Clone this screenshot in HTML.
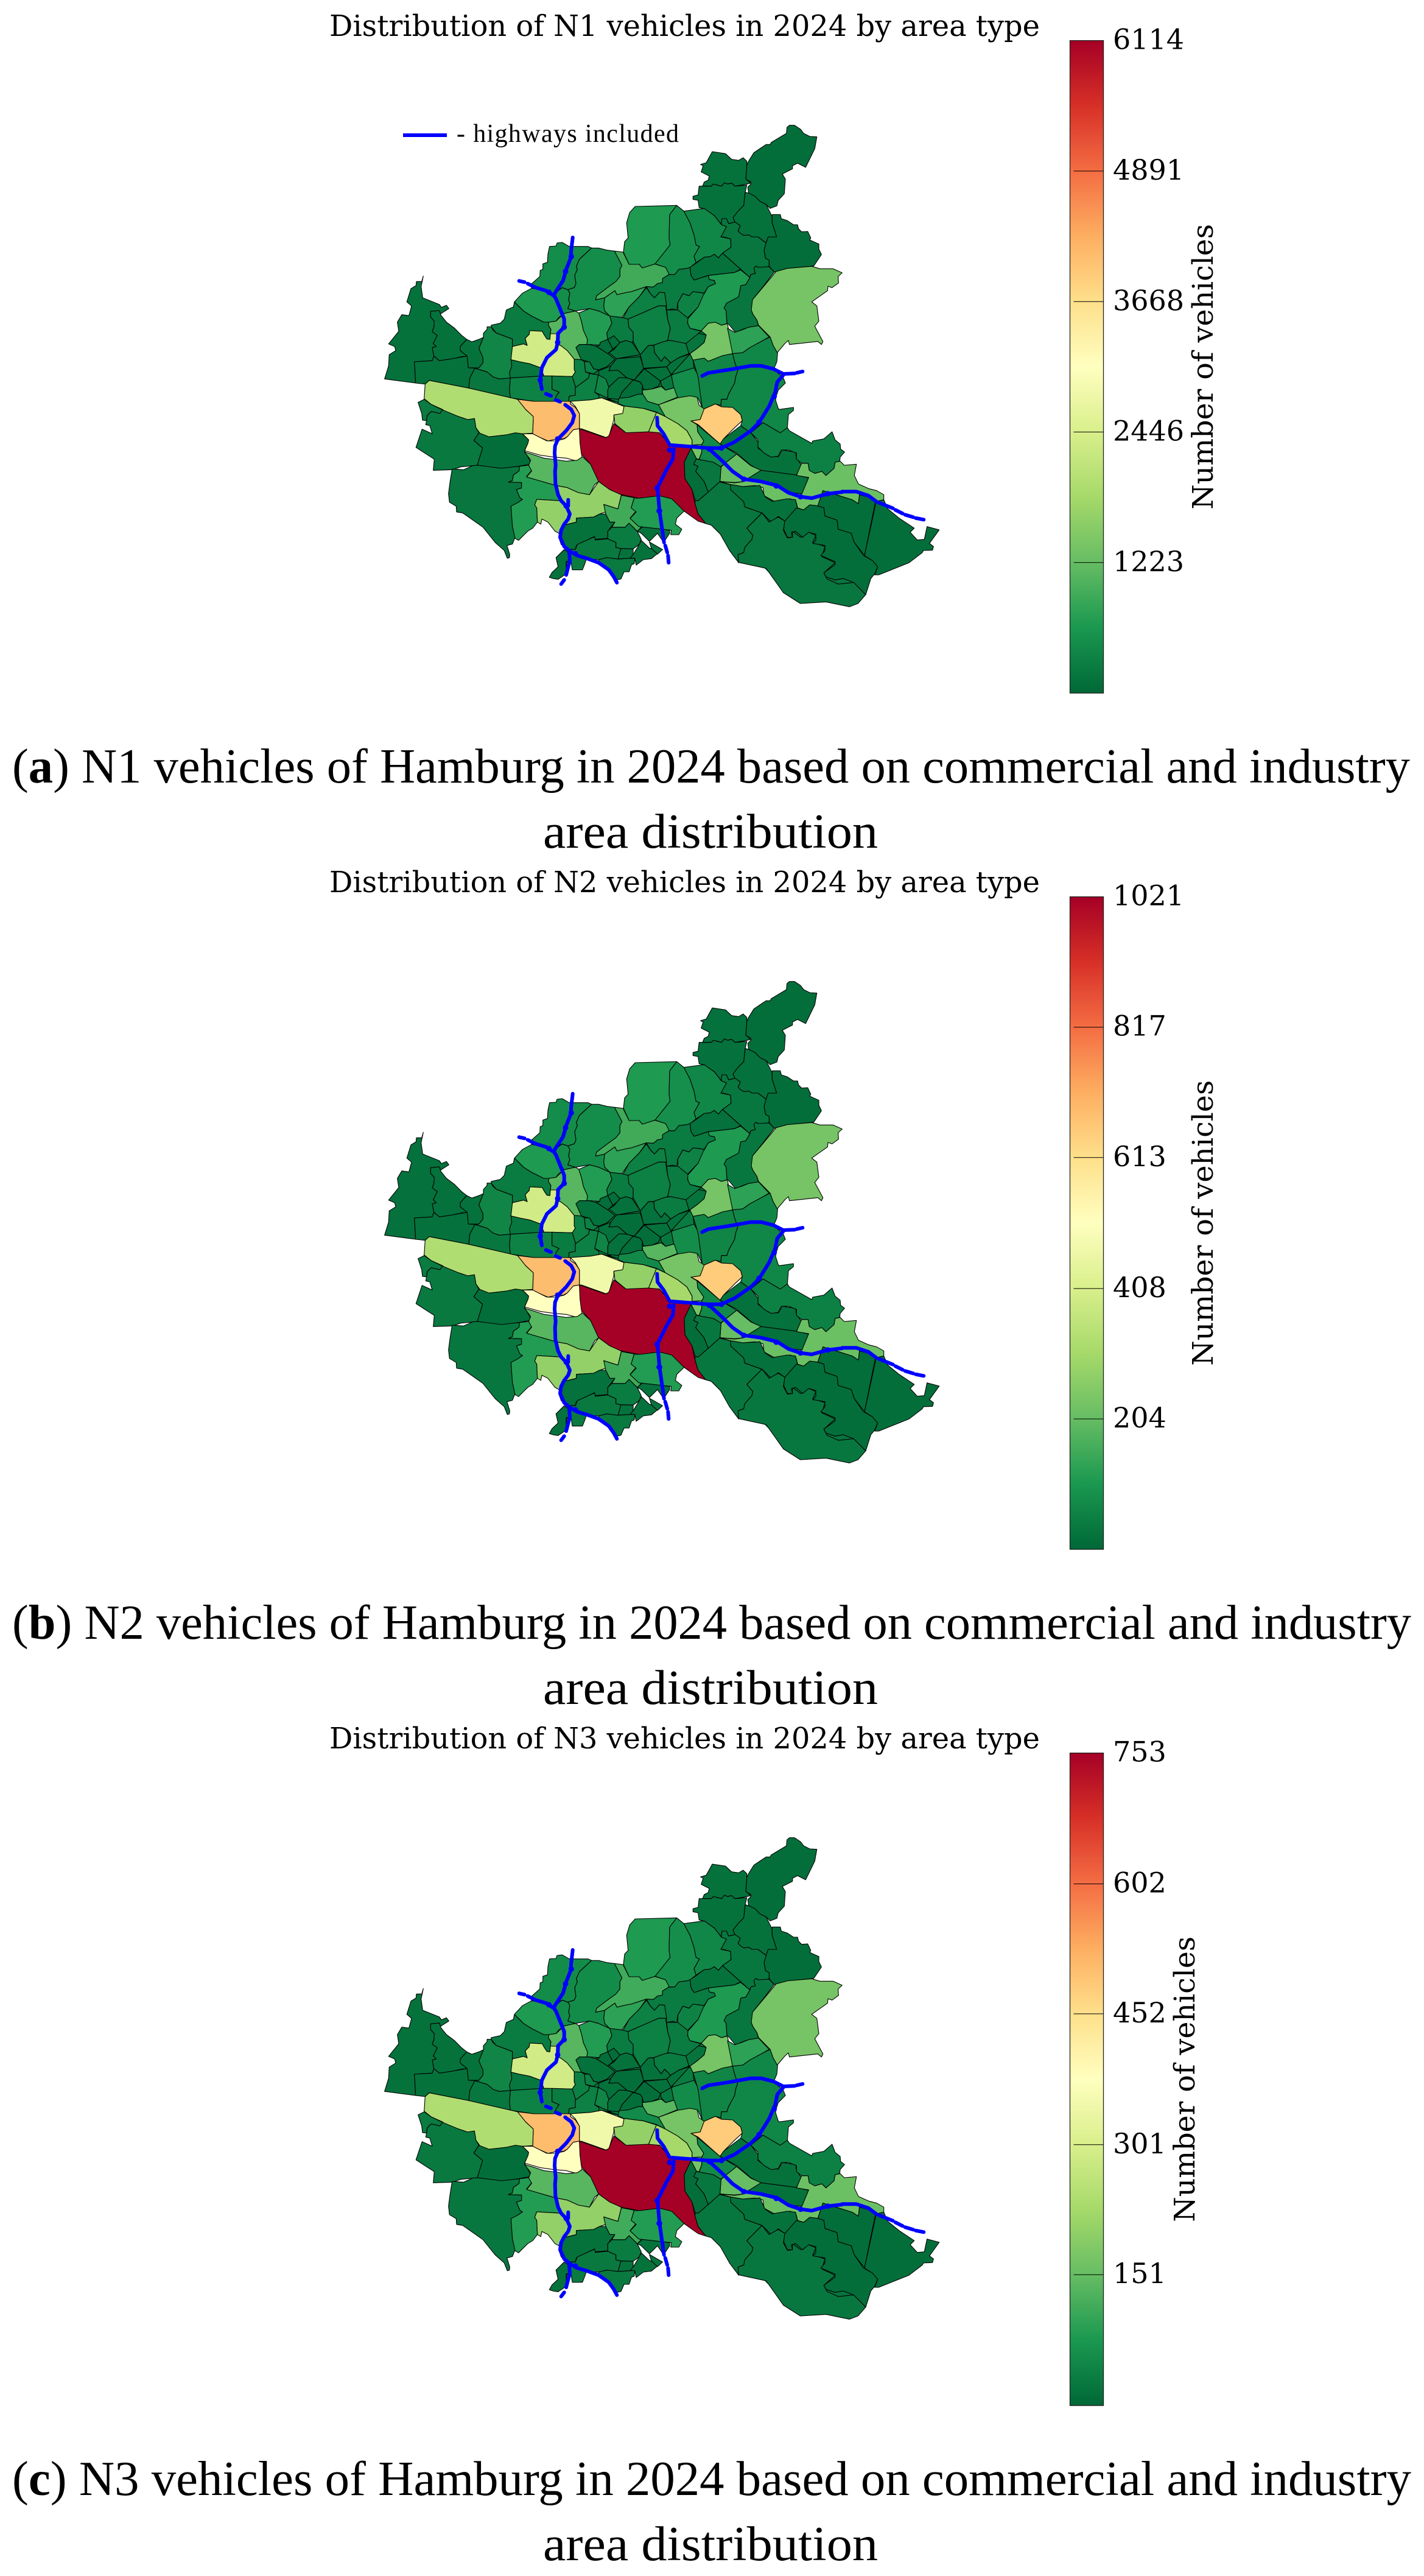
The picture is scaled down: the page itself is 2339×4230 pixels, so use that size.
<!DOCTYPE html>
<html lang="en">
<head>
<meta charset="utf-8">
<title>Distribution of N1, N2 and N3 vehicles in Hamburg 2024</title>
<style>
html,body{margin:0;padding:0;background:#fff;}
svg{display:block;position:absolute;left:0;top:0;}
.title{font-family:"DejaVu Serif","Liberation Serif",serif;font-size:48px;fill:#000;}
.caption{font-family:"Liberation Serif",serif;font-size:80px;fill:#000;}
.legend-text{font-family:"Liberation Serif",serif;font-size:42px;fill:#000;}
.tick{font-family:"DejaVu Serif","Liberation Serif",serif;font-size:46px;fill:#000;}
.cb-label{font-family:"DejaVu Serif","Liberation Serif",serif;font-size:47px;fill:#000;}
</style>
</head>
<body>
<svg id="figure" xmlns="http://www.w3.org/2000/svg" width="2339" height="4230" viewBox="0 0 2339 4230">
  <rect x="0" y="0" width="2339" height="4230" fill="#ffffff"/>
  <defs id="defs"></defs>

  <text class="title" x="541" y="59" textLength="1167" lengthAdjust="spacingAndGlyphs">Distribution of N1 vehicles in 2024 by area type</text>
  <text class="title" x="541" y="1465" textLength="1167" lengthAdjust="spacingAndGlyphs">Distribution of N2 vehicles in 2024 by area type</text>
  <text class="title" x="541" y="2871" textLength="1167" lengthAdjust="spacingAndGlyphs">Distribution of N3 vehicles in 2024 by area type</text>

  <g id="maps"></g>

  <line x1="662" y1="222" x2="734" y2="222" stroke="#0000ff" stroke-width="6"/>
  <text class="legend-text" x="750" y="233" textLength="365" lengthAdjust="spacing">- highways included</text>

  <text class="caption" x="20" y="1285" textLength="2296" lengthAdjust="spacingAndGlyphs">(<tspan font-weight="bold">a</tspan>) N1 vehicles of Hamburg in 2024 based on commercial and industry</text>
  <text class="caption" x="892" y="1392" textLength="550" lengthAdjust="spacingAndGlyphs">area distribution</text>
  <text class="caption" x="20" y="2691" textLength="2298" lengthAdjust="spacingAndGlyphs">(<tspan font-weight="bold">b</tspan>) N2 vehicles of Hamburg in 2024 based on commercial and industry</text>
  <text class="caption" x="892" y="2798" textLength="550" lengthAdjust="spacingAndGlyphs">area distribution</text>
  <text class="caption" x="20" y="4097" textLength="2298" lengthAdjust="spacingAndGlyphs">(<tspan font-weight="bold">c</tspan>) N3 vehicles of Hamburg in 2024 based on commercial and industry</text>
  <text class="caption" x="892" y="4204" textLength="550" lengthAdjust="spacingAndGlyphs">area distribution</text>
</svg>

<script>
/* ---------- data: vehicles per district, same order as districtOutlines ---------- */
var n1Values = [122,122,122,122,367,245,642,459,459,459,
917,764,1100,2354,183,336,245,183,306,306,
673,122,73,73,122,306,367,73,122,122,
73,73,183,122,122,245,122,153,245,459,
1100,1376,1376,428,1651,1834,2812,4096,3057,1956,
245,214,73,183,673,1100,1651,122,214,245,
122,122,122,153,214,245,122,917,673,6114,
3913,428,122,1223,122,1284,183,122,183,73,
73,73,306,367,397,1376,73,122,122,122,
73,183,183,1376,764,642,122,245,336,306,
306,245,245,642,489,397,73,183];
var n2Values = [20,20,20,20,61,41,107,77,77,77,
153,128,184,393,31,56,41,31,51,51,
112,20,12,12,20,51,61,12,20,20,
12,12,31,20,20,41,20,26,41,77,
184,230,230,71,276,306,470,684,510,327,
41,36,12,31,112,184,276,20,36,41,
20,20,20,26,36,41,20,153,112,1021,
653,71,20,204,20,214,31,20,31,12,
12,12,51,61,66,230,12,20,20,20,
12,31,31,230,128,107,20,41,56,51,
51,41,41,107,82,66,12,31];
var n3Values = [15,15,15,15,45,30,79,56,56,56,
113,94,136,290,23,41,30,23,38,38,
83,15,9,9,15,38,45,9,15,15,
9,9,23,15,15,30,15,19,30,56,
136,169,169,53,203,226,346,505,377,241,
30,26,9,23,83,136,203,15,26,30,
15,15,15,19,26,30,15,113,83,753,
482,53,15,151,15,158,23,15,23,9,
9,9,38,45,49,169,9,15,15,15,
9,23,23,169,94,79,15,30,41,38,
38,30,30,79,60,49,9,23];

/* ---------- colorbar scale data ---------- */
var n1Ticks = [1223,2446,3668,4891,6114];
var n2Ticks = [204,408,613,817,1021];
var n3Ticks = [151,301,452,602,753];
var n1Max = 6114;
var n2Max = 1021;
var n3Max = 753;
var colormapStops = ["#006837","#1a9850","#66bd63","#a6d96a","#d9ef8b","#ffffbf","#fee08b","#fdae61","#f46d43","#d73027","#a50026"];

/* ---------- map geometry (shared by the three panels) ---------- */
var tracingFrames = {A:[630,1780,3,3],B:[1000,1600,3,3],C:[700,2100,3,3],D:[1000,2000,3,3],E:[1240,1960,3,3],Z:[550,1560,1.4255,1.5077]};

var districtOutlines = [
["w1","A 5,745 25,680 28,625 60,605 55,585 25,572 75,510 68,465 90,428 125,433 138,385 115,365 135,300 160,285 162,265 188,265 196,238 185,290 193,345 275,378 285,392 310,382 322,398 280,425 275,408 232,412 232,440 250,460 248,490 240,512 265,530 245,570 260,585 240,590 248,632 240,655 152,660 158,765"],
["w2","A 232,412 275,408 282,430 310,465 350,495 385,530 410,550 378,585 378,605 412,632 385,635 340,645 275,655 248,632 240,590 260,585 245,570 265,530 240,512 248,490 250,460 232,440"],
["w3","A 152,660 240,655 248,632 275,655 340,645 412,632 418,690 450,692 425,740 420,790 225,752 205,770 158,765"],
["w4","A 410,550 435,562 470,550 492,540 470,595 490,640 490,665 470,690 418,690 412,632 378,605 378,585"],
["w5","A 510,488 530,488 540,505 555,518 635,548 635,740 570,745 540,735 510,710 450,692 470,690 490,665 490,640 470,595 492,540 492,520 510,500"],
["w6","A 635,585 635,548 555,518 532,490 530,480 575,470 595,450 605,405 640,390 645,365 690,410 730,435 790,465 815,465 812,480 825,500 822,522 820,550 805,548 790,525 782,510 720,507 718,525 698,545 708,580 690,572"],
["w7","A 645,365 685,322 730,298 800,310 830,335 850,350 875,400 890,425 865,440 850,460 815,465 790,465 730,435 690,410"],
["w7b","A 830,335 880,295 908,305 918,322 912,355 918,372 908,398 945,410 890,425 875,400 850,350"],
["w8","A 725,280 770,240 772,210 785,205 785,178 808,170 810,130 818,92 850,90 855,75 880,72 915,92 1008,92 1025,100 965,155 950,190 955,205 942,235 948,275 940,295 908,305 880,295 840,320 830,335 800,310 730,298"],
["w9","A 1025,100 1060,100 1100,110 1138,115 1175,185 1165,205 1165,240 1145,265 1110,290 1050,335 1045,355 1090,345 1085,385 1090,410 1115,435 1060,410 1015,398 945,410 908,398 918,372 912,355 918,322 908,305 940,295 948,275 942,235 955,205 950,190 965,155"],
["w10","A 1045,355 1050,335 1110,290 1145,265 1165,240 1165,205 1175,185 1138,115 B 30,655 70,660 100,720 150,720 165,738 225,718 280,735 300,768 265,790 265,810 240,815 220,832 185,830 110,855 90,858 A 1150,330 1140,310 1090,345"],
["x","A 1090,345 1140,310 1150,330 B 90,858 110,855 185,830 150,880 100,930 65,982 A 1115,435 1090,410 1085,385"],
["w11","A 815,465 850,460 890,422 945,410 962,420 975,460 985,505 1005,550 1002,575 965,575 948,590 975,650 940,648 905,605 875,582 852,570 852,522 822,522 825,500 812,480"],
["w12","A 635,585 690,572 708,580 698,545 718,525 720,507 782,510 790,525 805,548 820,550 822,522 852,522 852,570 875,582 905,605 940,648 940,700 945,710 930,733 790,730 775,690 720,670 670,660 628,650"],
["w13","A 628,650 670,660 720,670 775,690 790,730 625,740 620,715 632,680"],
["w14","A 625,740 790,730 830,730 830,795 865,810 850,830 845,855 740,855 625,838 620,795"],
["w15","A 830,730 930,733 945,780 945,825 915,830 912,855 845,855 850,830 865,810 830,795"],
["w16","A 450,692 510,710 540,735 570,745 625,740 620,795 625,838 420,790 425,740"],
["w17","A 940,648 975,650 990,660 995,710 1015,718 1010,740 945,788 945,780 930,733 945,710 940,700"],
["w18","A 945,788 1010,740 1015,718 1058,725 1045,795 1040,810 1062,825 1060,840 1110,845 1155,860 1075,838 1020,848 920,855 912,855 915,830 945,825"],
["ca1","A 962,420 1015,398 1060,410 1115,435 1125,470 1100,520 1105,550 1068,565 1065,578 1015,575 1002,575 1005,550 985,505 975,460"],
["c1","A 948,590 965,575 1015,575 1050,585 1105,620 1140,648 1100,685 1060,700 1035,695 1015,660 990,655 975,650"],
["c2","A 1068,565 1105,550 1130,598 1105,620 1050,585 1065,578"],
["c3","A 1105,550 1135,532 1170,565 1130,598"],
["c4","B 25,1140 55,1105 85,1095 115,1105 155,1165 38,1185 0,1155"],
["c7","A 990,660 1015,660 1035,695 1060,700 1035,720 995,710"],
["c8","A 1058,725 1090,740 1095,705 1155,702 1160,738 1105,800 1105,825 1118,845 1040,810 1045,795"],
["t1","B 38,1185 155,1175 172,1232 D 170,35 125,90 90,80 45,42 0,45 A 1120,680"],
["t2","A 1060,705 1120,680 D 0,45 45,42 90,80 50,78 0,125 A 1095,745 1060,725"],
["c9","D -5,180 -5,140 0,125 50,78 90,80 120,90 65,150 50,185"],
["c10","D 50,185 65,150 120,90 155,100 165,115 165,165 105,180"],
["dc","D 125,90 175,35 255,95 245,120 210,135 170,138 165,115 155,100"],
["dd","D 255,95 308,65 322,128 280,140 258,115"],
["de","D 175,35 285,25 308,65 255,95"],
["df","B 155,1165 172,1232 285,1225 305,1205 275,1175 258,1198 225,1155 222,1120 195,1120"],
["nm1","B 222,1118 260,1100 305,1095 380,1110 395,1160 345,1180 305,1205 275,1175 258,1198 225,1155"],
["nm2","D 285,25 305,5 345,-20 400,-38 420,30 308,65"],
["nm3","B 380,1110 440,1060 480,1068 470,1105 435,1135 400,1160 395,1160"],
["nm4","D 400,-38 415,-8 420,30 440,75 310,60"],
["e1","D 308,65 420,30 445,75 460,225 440,180 400,170 340,180 320,128"],
["l1","D 165,140 210,135 258,122 280,140 322,128 338,175 245,212 190,195 168,160"],
["l2","D 245,212 338,178 400,168 435,175 445,215 472,232 450,285 405,292 435,310 438,345 468,390 458,408 410,410 410,385 385,340 340,305 278,270 255,235"],
["l3","D 405,425 432,478 445,480 458,445 458,408 410,410"],
["band","D 50,180 100,175 145,160 168,160 190,195 245,212 278,270 235,248 170,230 75,218 45,205"],
["g1","D 75,218 170,230 235,250 195,348 85,350 30,305 25,262 65,255"],
["g2","D 235,250 278,270 340,305 385,340 410,385 410,425 400,425 300,410 250,350 195,348"],
["pale1","A 920,855 1020,848 1075,838 1185,880 1178,915 1135,922 1135,945 1110,1030 1095,1033 975,990 965,990 965,915 945,880"],
["orange","A 660,845 740,855 920,855 922,870 945,885 965,915 965,990 935,995 905,1030 885,1040 855,1040 810,1050 745,1022 735,1015 738,930 700,895"],
["pale2","A 685,1015 735,1015 805,1050 850,1050 890,1040 905,1030 935,995 965,990 970,1060 978,1130 955,1150 900,1135 840,1130 770,1120 695,1098 712,1060 715,1045"],
["band2","A 225,752 420,790 660,845 700,895 738,930 735,1012 685,1015 605,1020 520,1030 480,1020 455,985 448,940 415,945 370,930 310,910 290,895 235,870 200,842 205,770"],
["ws1","A 200,845 235,870 290,897 278,915 235,905 215,925 212,950 192,948 188,915 170,860"],
["ws2","A 215,925 235,905 278,915 290,897 370,930 415,945 448,940 455,985 470,1010 445,1048 488,1085 462,1170 380,1178 340,1192 245,1195 250,1140 195,1105 160,1082 190,992 240,1015 228,975 208,970 212,950"],
["ws3","A 470,1010 520,1030 605,1020 650,1010 685,1015 715,1045 712,1060 695,1098 725,1155 720,1165 665,1175 580,1190 500,1175 462,1170 488,1085 445,1048"],
["sw1","C 128,228 185,232 228,212 252,210 370,225 460,215 458,238 430,258 425,285 405,293 470,295 470,322 445,330 462,370 475,378 450,395 418,412 425,510 438,565 425,598 398,605 412,650 410,665 400,668 385,630 340,590 280,515 180,445 150,440 148,412 115,392 110,350 118,290"],
["sw2","C 460,215 505,210 520,235 495,265 635,305 650,370 665,385 545,378 535,405 545,420 548,490 525,520 500,535 455,580 438,570 425,510 418,412 450,395 475,378 462,370 445,330 470,322 470,295 405,293 425,285 430,258 458,238"],
["sw3","C 485,145 520,155 580,175 645,183 690,190 745,185 770,168 810,205 850,290 830,305 805,355 750,345 695,320 640,310 495,268 520,238 505,210 515,185"],
["sw4","C 640,310 695,320 750,345 805,355 850,290 905,330 962,355 945,425 875,403 885,440 855,450 825,465 740,470 740,490 680,505 655,545 635,535 600,490 570,475 565,500 548,490 545,420 535,405 545,378 665,385 650,370 635,305"],
["s1","C 680,505 740,490 740,470 825,465 855,450 885,450 905,490 930,490 895,535 895,570 830,575 830,560 740,605 735,625 700,625 665,600 655,570 655,545"],
["s2","C 700,625 735,625 745,600 830,562 833,578 895,572 935,590 935,615 960,620 945,672 890,665 850,675 790,672 745,650"],
["s3","C 895,535 915,515 980,515 1000,495 1040,535 1060,575 1050,600 1020,622 960,620 935,615 935,590 895,572"],
["s4","C 960,620 1020,622 1020,650 1005,668 945,672"],
["s5","C 1050,600 1060,580 1100,618 1110,620 1140,645 1110,670 1070,675 1035,702 1028,668 1005,668 1020,650"],
["s6","C 1040,535 1070,510 1200,530 1200,545 1170,590 1140,545 1100,585 1060,545"],
["s6b","C 1100,588 1165,625 1140,648 1110,620"],
["s7","C 850,675 890,665 945,672 1005,668 1028,668 1025,695 1012,700 1000,735 975,735 960,770 940,775 905,720 850,690"],
["s8","C 700,640 735,655 790,672 780,700 770,725 720,725 715,690 690,685 690,715"],
["s9","C 680,625 700,640 705,680 690,685 690,745 650,772 625,768 607,762 620,738 650,710 640,665"],
["sc1","C 962,358 1025,370 1010,420 1035,435 1005,470 1065,510 1040,535 1000,495 980,515 915,515 930,490 905,490 885,450 875,403 945,425"],
["sc2","D 125,672 150,672 250,660 310,675 372,735 335,770 328,800 360,825 345,852 305,852 308,830 148,812 105,772 135,740 110,720"],
["red","D -145,330 -15,375 0,365 25,305 85,350 195,345 250,350 300,410 405,425 372,495 375,575 410,630 425,700 440,750 478,797 440,785 370,735 310,675 250,660 150,672 60,655 5,630 -50,590 -90,505 -135,455 -142,400"],
["lorange","D 470,232 525,208 555,222 610,225 650,260 658,290 620,325 570,375 548,405 440,310 405,292 450,285"],
["r2","D 435,310 548,405 630,455 580,495 550,518 515,495 445,482 458,445 458,408 468,390 438,345"],
["r3","D 565,380 650,315 700,350 735,395 735,425 790,465 835,468 855,435 920,445 925,475 950,510 925,558 745,535 700,510 630,450 548,405"],
["r4","D 630,455 700,512 750,535 665,590 620,595 548,590 553,518 580,495"],
["r5","D 750,535 925,558 985,572 965,635 955,655 880,640 825,610 720,585 700,578 665,588"],
["r6","E 0,730 40,740 45,780 100,810 175,795 205,815 210,840 240,850 270,825 310,830 335,755 480,800 510,820 515,775 590,798 600,808 635,800 635,775 600,755 560,745 510,722 490,680 500,625 440,630 420,610 395,615 390,645 350,680 330,660 295,670 268,655 262,620 230,620 205,680 265,690 232,770 170,765 100,730 0,705 D 700,578 665,590 620,597 548,590 600,605 660,615"],
["r7","D 425,682 440,685 490,642 545,592 600,605 600,630 665,690 670,715 755,745 680,820 710,855 705,875 670,915 665,940 637,950 640,990 595,930 550,850 505,805 478,797 440,750 425,700"],
["r8","D 600,605 660,615 745,610 770,665 805,688 880,675 920,680 930,722 868,785 835,762 800,790 755,745 670,715 665,690 600,630"],
["r9","D 755,745 790,790 835,765 868,785 860,830 880,868 905,865 905,835 945,865 985,840 1020,855 1005,890 1065,910 1050,960 1115,990 1060,1040 1075,1070 1130,1095 Z 1178,1214 1215,1210 1243,1240 1225,1262 1205,1270 1150,1258 1090,1262 1050,1235 1010,1175 945,1160 D 640,990 637,950 665,940 670,915 705,875 710,855 680,820"],
["r10","E 147,905 205,840 240,850 270,825 310,830 340,840 345,880 405,900 410,945 475,965 490,1010 535,1075 580,1100 605,1130 590,1165 Z 1255,1200 1243,1240 1215,1210 1190,1200 E 395,1195 350,1180 340,1160 395,1120 395,1105 325,1075 345,1050 345,1025 285,1015 300,1000 300,970 265,960 235,985 200,955 180,960 185,985 160,985 142,945"],
["r11","E 340,840 310,830 335,755 480,800 510,820 515,775 596,798 540,1075 490,1010 475,965 410,945 405,900 345,880"],
["r12","E 598,808 635,800 655,845 710,890 785,940 765,960 800,998 835,995 848,932 908,948 860,1015 880,1030 875,1048 830,1050 825,1060 760,1110 610,1170 590,1170 605,1130 580,1100 540,1075"],
["r13","E 40,420 125,470 145,445 160,445 170,460 280,522 285,510 340,500 380,465 395,505 420,525 422,550 442,565 420,590 418,610 395,615 390,645 350,680 330,660 295,670 268,655 262,620 230,620 205,600 205,570 165,555 130,555 115,585 80,590 45,570 15,540 15,505 0,490 -20,470"],
["r14a","B 415,1192 470,1182 490,1198 560,1170 610,1160 D 620,0 635,45 625,75 620,105 590,160 582,185 555,185 552,215 525,208 470,232 460,225 440,75"],
["r14b","D 610,-40 660,-45 695,-70 760,-105 795,-122 810,-80 832,-42 828,0 815,30 815,40 860,80 870,105 835,140 825,170 822,190 835,230 840,235 910,225 910,240 885,260 880,325 845,350 760,300 745,310 700,350 650,315 658,290 650,260 610,225 555,222 552,215 555,185 582,185 590,160 620,105 625,75 635,45 620,0"],
["blight","B 400,1160 435,1135 470,1105 480,1068 455,1048 490,1010 525,1005 555,1020 585,1012 610,1160 560,1170 490,1198 470,1182 415,1192"],
["n1","B 690,210 715,170 745,150 775,130 795,130 800,120 875,75 878,45 890,35 915,35 945,55 960,75 990,90 1025,92 1015,150 970,242 930,222 905,235 905,250 855,275 870,300 865,372 835,405 828,432 795,445 775,425 745,410 720,385 690,375 685,340 700,325 700,315 675,300 680,230"],
["n2","B 510,165 575,175 605,203 640,208 662,195 680,212 680,230 675,300 700,320 680,325 622,335 605,320 585,325 570,318 555,335 515,325 505,335 462,335 470,315 490,305 495,285 455,265 465,235 452,228 480,220"],
["n3","B 445,335 505,335 515,325 555,335 570,318 585,325 605,320 622,335 680,330 672,365 665,430 640,455 612,490 622,512 590,520 580,495 558,495 555,510 555,525 520,480 465,445 445,440 440,405 415,400 415,385 440,378"],
["n4","B 672,365 690,370 720,385 745,410 775,425 785,445 805,485 805,515 827,585 785,585 775,615 735,585 705,585 690,575 665,578 645,565 637,555 648,530 622,512 612,490 640,455 665,430"],
["n5","B 805,475 845,475 850,495 880,505 910,525 930,525 935,545 950,560 980,558 995,590 990,600 1035,620 1035,645 1048,672 1010,728 940,735 840,752 815,758 790,730 790,700 772,690 765,650 775,615 785,585 827,585 805,515"],
["n6","B 590,520 622,512 648,530 637,555 645,565 665,578 690,575 705,585 735,585 775,615 765,650 772,690 790,700 790,730 770,735 735,735 725,728 715,740 722,765 700,770 695,785 650,745 560,665 602,635 600,595 565,585 552,585 555,560 580,535 555,525 555,510 558,495 580,495"],
["n7","B 695,785 700,770 722,765 715,740 725,728 735,735 790,732 815,758 760,830 708,895 708,935 702,945 710,965 730,995 738,1025 690,1030 660,1040 625,1055 615,1045 590,1015 582,1010 578,950 568,935 580,912 640,880 650,825 675,820"],
["n8","B 825,755 880,740 1000,730 1040,742 1105,742 1150,762 1130,780 1132,812 1100,835 1080,828 1078,850 1000,905 1025,925 1035,1000 1015,1025 1055,1100 1048,1115 1030,1100 890,1115 885,1095 868,1110 830,1155 810,1120 795,1078 738,1020 730,995 710,965 702,945 708,895"],
["n9","B 585,1035 620,1055 660,1042 690,1030 738,1022 790,1078 760,1095 695,1130 660,1155 610,1160"],
["n10","B 490,775 620,760 650,748 695,785 675,820 650,825 640,880 580,912 568,935 578,950 582,1012 555,1020 525,1005 490,1010 455,1048 400,1035 390,1015 388,990 440,930 450,890 470,865 490,830 525,815 520,800 495,795"],
["n11","B 400,735 430,715 470,685 500,682 520,670 540,688 560,665 650,745 620,760 490,775 420,798 405,775"],
["n12","B 298,770 325,770 345,745 385,740 400,735 405,775 420,798 490,775 495,795 520,800 525,815 490,830 470,862 415,855 395,875 365,865 340,910 335,945 315,940 285,945 275,860 250,858 225,885 205,865 185,830 220,832 240,815 265,810 265,790"],
["n13","B 365,865 395,875 415,855 470,862 440,930 388,985 340,945 340,910"],
["n14","B 70,985 100,930 150,880 185,835 205,865 225,885 250,858 275,860 285,925 245,925 95,990"],
["n15","B 95,990 245,925 280,925 290,990 303,1035 290,1095 258,1105 222,1118 195,1120 155,1165 120,1100 120,1055 98,1030"],
["n16","B 285,945 335,945 340,945 390,985 388,1010 400,1035 455,1050 380,1110 305,1095 290,1095 303,1035 290,990"],
["n17","B 5,975 65,982 95,990 98,1030 120,1055 120,1100 115,1105 85,1095 55,1105 25,1072 -5,1090 A 1100,520 1125,470"],
["n18","B 130,435 335,430 300,475 297,590 302,625 228,718 165,738 150,720 100,720 72,660 78,608 95,590 88,515 103,465"],
["n19","B 335,430 370,458 400,515 420,575 430,625 447,632 420,680 430,712 400,735 385,740 345,745 325,770 298,770 280,735 228,718 302,625 297,590 300,475"],
["n20","B 370,458 470,445 520,480 555,525 580,535 552,585 600,595 602,635 560,665 540,688 520,670 500,682 470,685 430,712 420,680 447,632 430,625 420,575 400,515"],
["m1","D 405,425 432,478 418,505 440,515 428,540 470,590 490,642 440,685 425,682 410,630 375,575 372,495"],
["m2","D 445,482 515,495 553,518 548,590 490,642 470,590 428,540 440,515 418,505 432,478"]
];

var mapUnderlays = [
  "A 950,650 B 200,900 500,1000 D 440,180 250,230 45,205 A 1100,850 940,800",
  "D 560,640 1000,700 1130,1000 900,1150 700,950 600,850",
  "B 560,500 790,500 780,720 600,720",
  "Z 1060,1150 1240,1165 1252,1205 1240,1236 1100,1245"
];

var highwayPaths = [
["h1-north","A 932,48 925,110 922,150 900,205 885,260 845,320 840,335 850,350 870,400 890,450 890,490 860,520 858,565 850,600 805,640 780,690 772,750 780,795"],
["h1-dash-1","A 800,818 825,828"],
["h1-dash-2","A 848,848 870,857"],
["h1-elbe","A 895,872 925,895 940,925 930,960 900,1000 860,1040 845,1075 843,1110 848,1170 C 635,240 637,300 650,355 665,385 690,410 708,450 700,475 680,500 665,530 660,565 680,610 710,635 745,655 790,668 850,690 900,725 925,760 940,788"],
["h1-branch","C 705,640 708,680 695,730 690,750"],
["h1-branch-dash","C 680,775 665,795"],
["h1-spur","C 700,380 700,410"],
["h7-west-dash","A 668,262 695,268"],
["h7-west","A 710,275 750,295 800,310 840,335"],
["h2-ring","D 238,275 240,315 270,355 300,410 490,425 555,425 620,395 700,340 740,300 790,220 820,150 830,100 860,65"],
["h2-north","D 460,70 490,55 600,38 700,20 750,20 810,35 860,60 915,58"],
["h2-north-dash","D 925,55 955,48"],
["h3","D 320,430 315,480 285,530 240,620 250,735 272,890"],
["h3-dash-1","D 278,905 288,940"],
["h3-dash-2","D 292,955 295,990"],
["h4","D 495,430 560,490 610,540 665,578 750,590 830,610 885,645 945,665 1000,672 1080,650 1150,642 E 430,760 500,760 560,780 600,810"],
["h4-dash-1","E 612,815 635,824"],
["h4-dash-2","E 645,828 680,842"],
["h4-dash-3","E 692,850 728,868"],
["h4-dash-4","E 740,874 780,886"],
["h4-dash-5","E 792,890 832,898"]
];

var highwayNodes = ["D 300,435","D 740,298","D 555,425","D 495,430","D 815,170","D 248,735","D 238,622","D 665,578","D 825,612","D 945,665","D 1080,650","A 890,490","A 858,565","A 772,750","A 925,142","A 897,215","A 815,318","A 858,1040","C 690,410","C 735,645","C 1150,435"];

/* ---------- helpers ---------- */
var svgNS = "http://www.w3.org/2000/svg";

function traceToPoints(str){
  var tokens = str.trim().split(/\s+/), frame = null, out = [];
  for (var i = 0; i < tokens.length; i++){
    var t = tokens[i];
    if (/^[A-Z]$/.test(t)) { frame = tracingFrames[t]; continue; }
    var p = t.split(",");
    out.push([frame[0] + (+p[0]) / frame[2], frame[1] + (+p[1]) / frame[3]]);
  }
  return out;
}
function pointsAttr(pts, dy){
  return pts.map(function(p){ return p[0].toFixed(1) + "," + (p[1] + dy).toFixed(1); }).join(" ");
}
function hexToRgb(h){ return [parseInt(h.substr(1,2),16),parseInt(h.substr(3,2),16),parseInt(h.substr(5,2),16)]; }
function colorFor(t){
  t = Math.max(0, Math.min(1, t));
  var f = t * (colormapStops.length - 1), i = Math.min(Math.floor(f), colormapStops.length - 2), k = f - i;
  var a = hexToRgb(colormapStops[i]), b = hexToRgb(colormapStops[i + 1]);
  return "rgb(" + Math.round(a[0] + (b[0] - a[0]) * k) + "," + Math.round(a[1] + (b[1] - a[1]) * k) + "," + Math.round(a[2] + (b[2] - a[2]) * k) + ")";
}

var defs = document.getElementById("defs");
var grad = document.createElementNS(svgNS, "linearGradient");
grad.setAttribute("id", "rdylgn");
grad.setAttribute("x1", "0"); grad.setAttribute("y1", "1"); grad.setAttribute("x2", "0"); grad.setAttribute("y2", "0");
colormapStops.forEach(function(c, i){
  var s = document.createElementNS(svgNS, "stop");
  s.setAttribute("offset", (i / (colormapStops.length - 1)).toFixed(3));
  s.setAttribute("stop-color", c);
  grad.appendChild(s);
});
defs.appendChild(grad);

var panels = [
  {key: "n1", values: n1Values, ticks: n1Ticks, max: n1Max, dy: -1406, labelX: 1992},
  {key: "n2", values: n2Values, ticks: n2Ticks, max: n2Max, dy: 0, labelX: 1992},
  {key: "n3", values: n3Values, ticks: n3Ticks, max: n3Max, dy: 1406, labelX: 1962}
];

var CB_X = 1757.5, CB_W = 55, CB_TOP = 1472.6, CB_H = 1071.5;

var root = document.getElementById("maps");

panels.forEach(function(panel){
  var g = document.createElementNS(svgNS, "g");
  
  
  root.appendChild(g);

  mapUnderlays.forEach(function(u){
    var under = document.createElementNS(svgNS, "polygon");
    
    
    under.setAttribute("points", pointsAttr(traceToPoints(u), panel.dy));
    under.setAttribute("fill", colorFor(0.025));
    g.appendChild(under);
  });

  districtOutlines.forEach(function(d, i){
    var poly = document.createElementNS(svgNS, "polygon");
    
    
    poly.setAttribute("points", pointsAttr(traceToPoints(d[1]), panel.dy));
    poly.setAttribute("fill", colorFor(panel.values[i] / panel.max));
    poly.setAttribute("stroke", "#000");
    poly.setAttribute("stroke-width", "1.1");
    poly.setAttribute("stroke-linejoin", "round");
    g.appendChild(poly);
  });

  highwayPaths.forEach(function(h){
    var line = document.createElementNS(svgNS, "polyline");
    
    
    line.setAttribute("points", pointsAttr(traceToPoints(h[1]), panel.dy));
    line.setAttribute("fill", "none");
    line.setAttribute("stroke", "#0000ff");
    line.setAttribute("stroke-width", "6");
    line.setAttribute("stroke-linejoin", "round");
    line.setAttribute("stroke-linecap", "round");
    g.appendChild(line);
  });

  highwayNodes.forEach(function(n){
    var pt = traceToPoints(n)[0];
    var dot = document.createElementNS(svgNS, "circle");
    
    
    dot.setAttribute("cx", pt[0].toFixed(1));
    dot.setAttribute("cy", (pt[1] + panel.dy).toFixed(1));
    dot.setAttribute("r", "4.5");
    dot.setAttribute("fill", "#0000ff");
    g.appendChild(dot);
  });

  /* colorbar */
  var top = CB_TOP + panel.dy, bottom = top + CB_H;
  function cbY(v){ return bottom - (v / panel.max) * CB_H; }

  var bar = document.createElementNS(svgNS, "rect");
  
  
  bar.setAttribute("x", CB_X);
  bar.setAttribute("y", top);
  bar.setAttribute("width", CB_W);
  bar.setAttribute("height", CB_H);
  bar.setAttribute("fill", "url(#rdylgn)");
  bar.setAttribute("stroke", "#222");
  bar.setAttribute("stroke-width", "1.3");
  g.appendChild(bar);

  panel.ticks.forEach(function(v){
    var y = cbY(v);
    if (v < panel.max) {
      var tick = document.createElementNS(svgNS, "line");
      
      
      tick.setAttribute("x1", CB_X + 6);
      tick.setAttribute("x2", CB_X + CB_W);
      tick.setAttribute("y1", y.toFixed(1));
      tick.setAttribute("y2", y.toFixed(1));
      tick.setAttribute("stroke", "#000");
      tick.setAttribute("stroke-width", "1");
      g.appendChild(tick);
    }
    var label = document.createElementNS(svgNS, "text");
    
    
    label.setAttribute("class", "tick");
    label.setAttribute("x", "1828");
    label.setAttribute("y", (y + 14).toFixed(1));
    label.textContent = String(v);
    g.appendChild(label);
  });

  var cy = top + CB_H / 2;
  var axis = document.createElementNS(svgNS, "text");
  
  
  axis.setAttribute("class", "cb-label");
  axis.setAttribute("text-anchor", "middle");
  axis.setAttribute("textLength", "469");
  axis.setAttribute("lengthAdjust", "spacingAndGlyphs");
  axis.setAttribute("transform", "translate(" + panel.labelX + "," + cy.toFixed(1) + ") rotate(-90)");
  axis.textContent = "Number of vehicles";
  g.appendChild(axis);
});
</script>
</body>
</html>
